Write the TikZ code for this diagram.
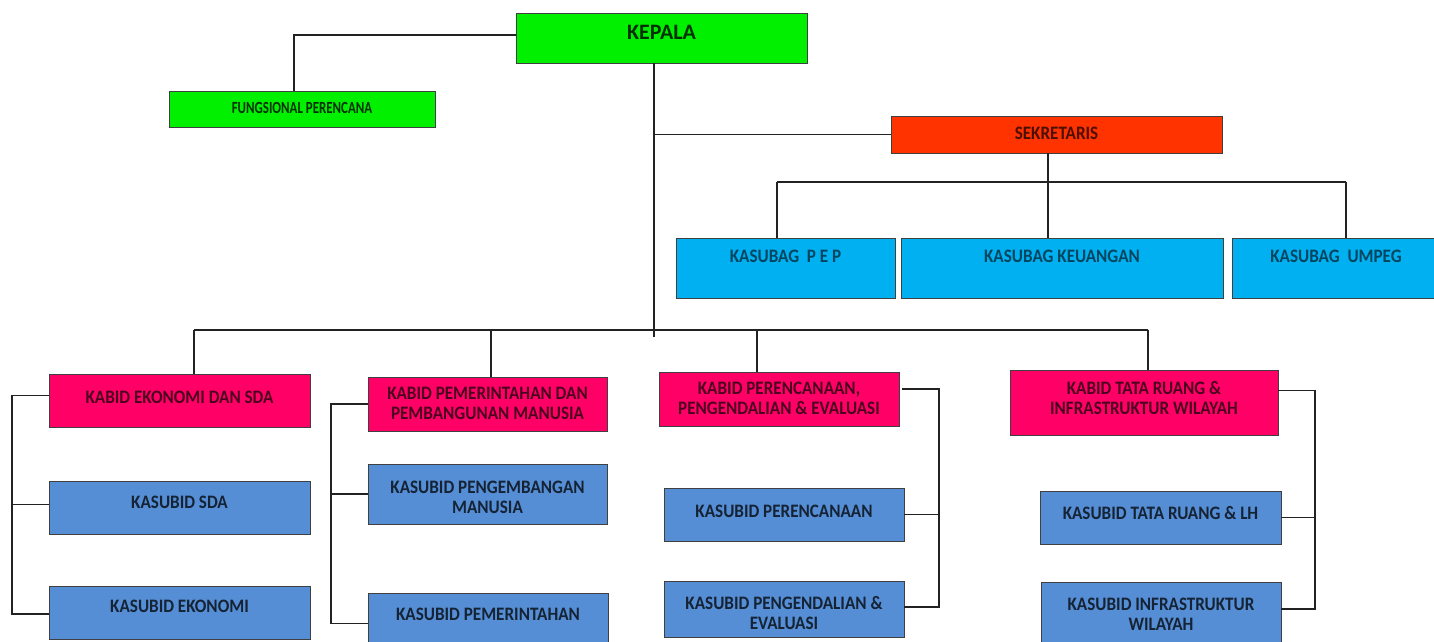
\documentclass[tikz,border=0pt]{standalone}
\usepackage{fontspec}
\setmainfont{Carlito}
\newfontfamily\condfont{Carlito}[FakeStretch=0.9]
\newfontfamily\narrowfont{Carlito}[FakeStretch=0.76]
\definecolor{cgreen}{HTML}{00F000}
\definecolor{cred}{HTML}{FF3300}
\definecolor{ccyan}{HTML}{00B0F0}
\definecolor{cpink}{HTML}{FF0066}
\definecolor{cblue}{HTML}{558ED5}
\definecolor{cline}{HTML}{222222}
\newcommand\obox[8]{%
  \pgfmathsetmacro\cx{(#3+#5)/2}\pgfmathsetmacro\cy{(#4+#6)/2}%
  \pgfmathsetmacro\ww{#5-#3}\pgfmathsetmacro\hh{#6-#4}%
  \node[orgbox,#2,minimum width=\ww pt,minimum height=\hh pt] (#1) at (\cx,\cy) {};%
  \node[orgtxt,#2] (#1t) at (\cx,#8) {#7};}
\begin{document}
\begin{tikzpicture}[x=1pt,y=-1pt,
  orgbox/.style={draw=black!75,line width=0.8pt,inner sep=0pt,outer sep=0pt},
  orgtxt/.style={inner sep=0pt,align=center,font=\condfont\bfseries\fontsize{19}{20}\selectfont},
  gbox/.style={fill=cgreen,text=cgreen!20!black},
  rbox/.style={fill=cred,text=cred!30!black},
  cbox/.style={fill=ccyan,text=ccyan!40!black},
  pbox/.style={fill=cpink,text=cpink!30!black},
  bbox/.style={fill=cblue,text=cblue!25!black},
  conn/.style={draw=cline,line width=1.6pt}]
\useasboundingbox (0,0) rectangle (1434,641);
\fill[white] (0,0) rectangle (1434,641);
% top
\obox{kep}{gbox,font=\rmfamily\bfseries\fontsize{22}{24}\selectfont}{516}{13}{807}{63}{KEPALA}{32}
\obox{fung}{gbox,font=\narrowfont\bfseries\fontsize{17}{18}\selectfont}{169}{91}{435}{127}{FUNGSIONAL PERENCANA}{108}
\obox{sek}{rbox}{891}{116}{1222}{153}{SEKRETARIS}{133}
% kasubag
\obox{sg1}{cbox}{676}{238}{895}{298}{KASUBAG\ \ P E P}{256}
\obox{sg2}{cbox}{901}{238}{1223}{298}{KASUBAG KEUANGAN}{256}
\obox{sg3}{cbox}{1232}{238}{1440}{298}{KASUBAG\ \ UMPEG}{256}
% column 1
\obox{kb1}{pbox}{49}{374}{310}{427}{KABID EKONOMI DAN SDA}{397}
\obox{k11}{bbox}{49}{481}{310}{534}{KASUBID SDA}{502}
\obox{k12}{bbox}{49}{586}{310}{639}{KASUBID EKONOMI}{606}
% column 2
\obox{kb2}{pbox}{368}{377}{607}{431}{KABID PEMERINTAHAN DAN\\PEMBANGUNAN MANUSIA}{403}
\obox{k21}{bbox}{368}{464}{607}{524}{KASUBID PENGEMBANGAN\\MANUSIA}{497}
\obox{k22}{bbox}{368}{593}{608}{646}{KASUBID PEMERINTAHAN}{614}
% column 3
\obox{kb3}{pbox}{659}{372}{899}{426}{KABID PERENCANAAN,\\PENGENDALIAN \& EVALUASI}{398.5}
\obox{k31}{bbox}{664}{488}{904}{541}{KASUBID PERENCANAAN}{511}
\obox{k32}{bbox}{664}{581}{904}{637}{KASUBID PENGENDALIAN \&\\EVALUASI}{613}
% column 4
\obox{kb4}{pbox}{1010}{370}{1278}{435}{KABID TATA RUANG \&\\INFRASTRUKTUR WILAYAH}{397.5}
\obox{k41}{bbox}{1040}{491}{1281}{544}{KASUBID TATA RUANG \& LH}{513}
\obox{k42}{bbox}{1041}{582}{1281}{646}{KASUBID INFRASTRUKTUR\\WILAYAH}{614}
% connectors: top
\draw[conn] ([yshift=3pt]kep.west) -| ([xshift=-8pt]fung.north);
\coordinate (kbot) at (654,337);
\draw[conn] (kep.south -| kbot) -- (kbot);
\draw[conn] (sek.west -| kbot) -- (sek.west);
% sekretaris bus
\coordinate (sbL) at (777,182);
\coordinate (sbM) at (1048,182);
\coordinate (sbR) at (1346,182);
\draw[conn] (sbL) -- (sbR);
\draw[conn] (sek.south -| sbM) -- (sbM |- sg2.north);
\draw[conn] (sbL) -- (sbL |- sg1.north);
\draw[conn] (sbR) -- (sbR |- sg3.north);
% main bus
\coordinate (bL) at (194,330);
\coordinate (b2) at (491,330);
\coordinate (b3) at (757,330);
\coordinate (bR) at (1148,330);
\draw[conn] (bL) -- (bR);
\draw[conn] (bL) -- (bL |- kb1.north);
\draw[conn] (b2) -- (b2 |- kb2.north);
\draw[conn] (b3) -- (b3 |- kb3.north);
\draw[conn] (bR) -- (bR |- kb4.north);
% brackets
\coordinate (x1) at (12,0);
\draw[conn] ([yshift=5pt]kb1.west) -- ([yshift=5pt]kb1.west -| x1) -- ([yshift=-1.5pt]k12.west -| x1) -- ([yshift=-1.5pt]k12.west);
\draw[conn] ([yshift=3pt]k11.west -| x1) -- ([yshift=3pt]k11.west);
\coordinate (x2) at (331,0);
\draw[conn] (kb2.west) -- (kb2.west -| x2) -- ([yshift=-4pt]k22.west -| x2) -- ([yshift=-4pt]k22.west);
\draw[conn] (k21.west -| x2) -- (k21.west);
\coordinate (x3) at (939,0);
\draw[conn] ([xshift=3pt,yshift=10pt]kb3.east) -- ([yshift=10pt]kb3.east -| x3) -- ([yshift=2pt]k32.east -| x3) -- ([yshift=2pt]k32.east);
\draw[conn] (k31.east -| x3) -- (k31.east);
\coordinate (x4) at (1315,0);
\draw[conn] ([yshift=12pt]kb4.east) -- ([yshift=12pt]kb4.east -| x4) -- ([yshift=5pt]k42.east -| x4) -- ([yshift=5pt]k42.east);
\draw[conn] (k41.east -| x4) -- (k41.east);
\end{tikzpicture}
\end{document}
